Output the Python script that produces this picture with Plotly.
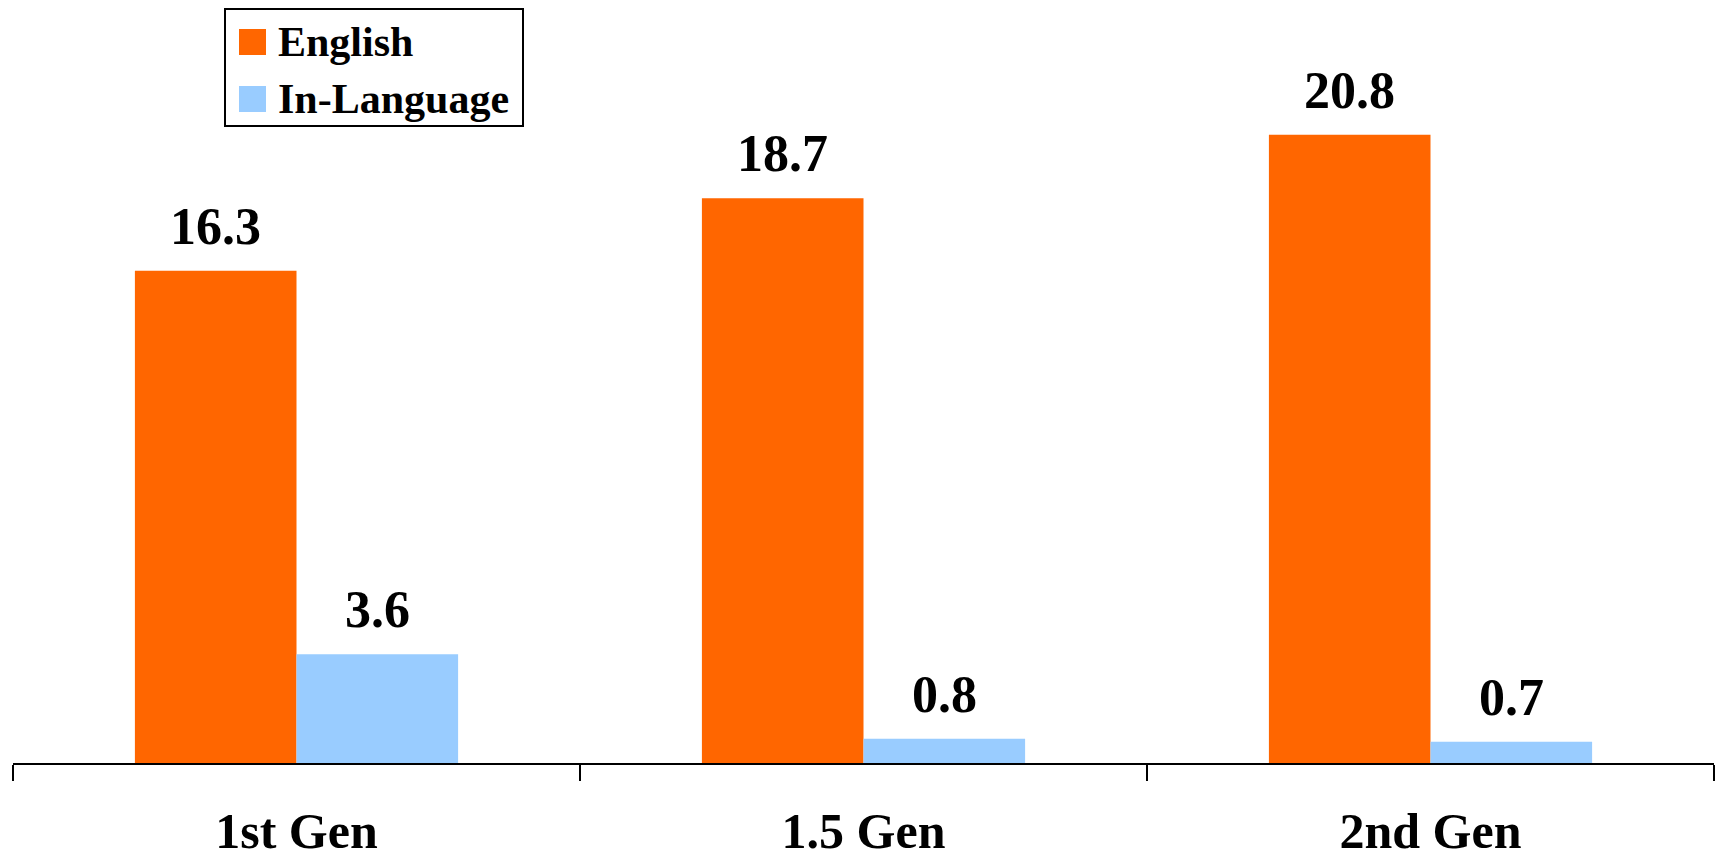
import plotly.graph_objects as go

# Data
generations = ["1st Gen", "1.5 Gen", "2nd Gen"]
english = [16.3, 18.7, 20.8]
in_language = [3.6, 0.8, 0.7]
series_names = ["English", "In-Language"]
series_colors = ["#FF6600", "#99CCFF"]

FONT = "Liberation Serif, Times New Roman, serif"

fig = go.Figure()
for name, vals, col in zip(series_names, [english, in_language], series_colors):
    fig.add_trace(go.Bar(name=name, x=generations, y=vals, marker=dict(color=col, line=dict(width=0)),
                         showlegend=False))

# Value labels above each bar (grouped offset of half a bar width)
bar_px = 162
for offset, vals in zip([-bar_px / 2, bar_px / 2], [english, in_language]):
    for g, v in zip(generations, vals):
        fig.add_annotation(x=g, y=v, text=f"<b>{v:.1f}</b>", showarrow=False,
                           xshift=offset, yshift=14, yanchor="bottom",
                           font=dict(family=FONT, size=52, color="black"))

# Legend box drawn in pixel-like paper coordinates
W, H = 1725, 860
L, R, T, B = 13, 11, 8, 97
pw, ph = W - L - R, H - T - B


def px(x):
    return (x - L) / pw


def py(y):
    return 1 - (y - T) / ph


fig.add_shape(type="rect", xref="paper", yref="paper", x0=px(225), x1=px(523), y0=py(126), y1=py(9),
              line=dict(color="black", width=2), fillcolor="white", layer="above")
for i, (name, col) in enumerate(zip(series_names, series_colors)):
    yc = 42 + i * 57
    fig.add_shape(type="rect", xref="paper", yref="paper", x0=px(239), x1=px(266),
                  y0=py(yc + 13), y1=py(yc - 13), line=dict(width=0), fillcolor=col, layer="above")
    fig.add_annotation(xref="paper", yref="paper", x=px(276), y=py(yc), text=f"<b>{name}</b>",
                       showarrow=False, xanchor="left", yanchor="middle",
                       font=dict(family=FONT, size=42, color="black"))

fig.update_layout(
    width=W, height=H,
    margin=dict(l=L, r=R, t=T, b=B, autoexpand=False),
    paper_bgcolor="white", plot_bgcolor="white",
    barmode="group", bargap=0.43, bargroupgap=0,
    font=dict(family=FONT, color="black"),
    xaxis=dict(showline=True, linecolor="black", linewidth=2, ticks="outside", tickson="boundaries",
               ticklen=16, tickwidth=2, tickcolor="black", showgrid=False, zeroline=False,
               tickfont=dict(family=FONT, size=50, color="black"), ticklabelstandoff=23,
               automargin=False,
               tickvals=generations, ticktext=[f"<b>{g}</b>" for g in generations],
               range=[-0.5, 2.5]),
    yaxis=dict(range=[0, 25], visible=False, showgrid=False, zeroline=False, automargin=False),
)

fig.write_html("out.html")
